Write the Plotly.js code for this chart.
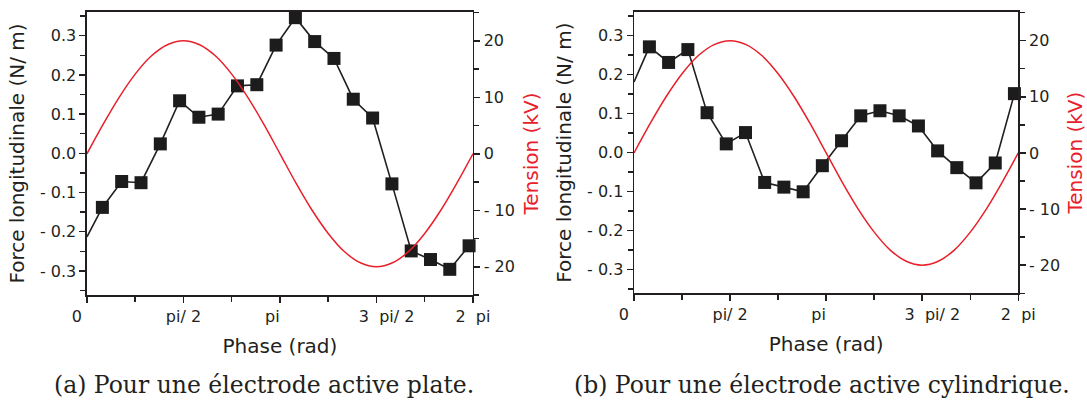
<!DOCTYPE html>
<html>
<head>
<meta charset="utf-8">
<script src="https://cdn.plot.ly/plotly-3.0.1.min.js"></script>
<style>html,body{margin:0;padding:0;background:#fff;}#chart{width:1087px;height:405px;}</style>
</head>
<body>
<div id="chart"></div>
<script>
// ---- Data ----
// Phase (rad) of the force measurements (first entry = left edge of the curve)
const phaseForce = [0, 0.251, 0.565, 0.880, 1.194, 1.508, 1.822, 2.136, 2.450, 2.765, 3.079,
                    3.393, 3.707, 4.021, 4.335, 4.650, 4.964, 5.278, 5.592, 5.906, 6.220];
// (a) flat active electrode, longitudinal force (N/m)
const forcePlate = [-0.213, -0.138, -0.072, -0.075, 0.024, 0.134, 0.092, 0.100, 0.172, 0.175, 0.276,
                    0.346, 0.285, 0.242, 0.138, 0.090, -0.078, -0.249, -0.271, -0.296, -0.236];
// (b) cylindrical active electrode, longitudinal force (N/m)
const forceCyl = [0.181, 0.271, 0.231, 0.264, 0.102, 0.022, 0.051, -0.077, -0.089, -0.101, -0.034,
                  0.030, 0.094, 0.107, 0.094, 0.068, 0.004, -0.039, -0.078, -0.027, 0.151];
// Applied voltage (kV) vs phase
const phaseVolt = [0, 0.262, 0.524, 0.785, 1.047, 1.309, 1.571, 1.833, 2.094, 2.356, 2.618, 2.880, 3.142,
                   3.403, 3.665, 3.927, 4.189, 4.451, 4.712, 4.974, 5.236, 5.498, 5.760, 6.021, 6.283];
const tensionKV = [0, 5.2, 10, 14.1, 17.3, 19.3, 20, 19.3, 17.3, 14.1, 10, 5.2, 0,
                   -5.2, -10, -14.1, -17.3, -19.3, -20, -19.3, -17.3, -14.1, -10, -5.2, 0];
// Tick labels
const xTickVals = [0, Math.PI / 2, Math.PI, 3 * Math.PI / 2, 2 * Math.PI];
const xTickText = ["0\u00a0\u00a0\u00a0\u00a0", "pi/ 2", "pi\u00a0\u00a0\u00a0", "\u00a0\u00a0\u00a0\u00a03 \u00a0pi/ 2", "2 \u00a0pi"];
const fTickVals = [-0.3, -0.2, -0.1, 0, 0.1, 0.2, 0.3];
const fTickText = ["- 0.3", "- 0.2", "- 0.1", "0.0", "0.1", "0.2", "0.3"];
const vTickVals = [-20, -10, 0, 10, 20];
const vTickText = ["- 20", "- 10", "0", "10", "20"];
const captions = ["(a) Pour une électrode active plate.", "(b) Pour une électrode active cylindrique."];

// ---- Styles ----
const INK = '#231f20';
const RED = '#e8202a';
const NB = '\u00a0';
const tickFont = {family: 'DejaVu Sans', size: 16, color: INK};
const titleFont = {family: 'DejaVu Sans', size: 20, color: INK};
const markerSizes = phaseForce.map((_, i) => i === 0 ? 0 : 13);

function forceTrace(y, xa, ya) {
  return {x: phaseForce, y: y, xaxis: xa, yaxis: ya, type: 'scatter', mode: 'lines+markers',
    line: {color: INK, width: 1.6},
    marker: {symbol: 'square', size: markerSizes, color: '#1c1c1c', opacity: 1, line: {width: 0}},
    showlegend: false, cliponaxis: false};
}
function voltTrace(xa, ya) {
  return {x: phaseVolt, y: tensionKV, xaxis: xa, yaxis: ya, type: 'scatter', mode: 'lines',
    line: {color: RED, width: 1.5, shape: 'spline', smoothing: 1}, showlegend: false};
}
const data = [
  forceTrace(forcePlate, 'x', 'y'), voltTrace('x', 'y2'),
  forceTrace(forceCyl, 'x2', 'y3'), voltTrace('x2', 'y4')
];

function xAxis(domain, anchor) {
  return {domain: domain, anchor: anchor, range: [0, 2 * Math.PI], tickmode: 'array',
    tickvals: xTickVals, ticktext: xTickText, ticks: 'outside', ticklen: 6, tickwidth: 1.5, tickcolor: INK,
    minor: {tickvals: [Math.PI / 4, 3 * Math.PI / 4, 5 * Math.PI / 4, 7 * Math.PI / 4], ticks: 'outside', ticklen: 5, tickwidth: 1.5, tickcolor: INK},
    showline: true, linecolor: INK, linewidth: 1.5, mirror: true, showgrid: false, zeroline: false,
    tickfont: tickFont, title: {text: 'Phase (rad)', font: titleFont, standoff: 14}};
}
function fAxis(domain, anchor) {
  return {domain: domain, anchor: anchor, range: [-0.3615, 0.3605], tickmode: 'array',
    tickvals: fTickVals, ticktext: fTickText, ticks: 'outside', ticklen: 6, tickwidth: 1.5, tickcolor: INK,
    minor: {dtick: 0.05, tick0: 0, ticks: 'outside', ticklen: 5, tickwidth: 1.5, tickcolor: INK},
    showline: true, linecolor: INK, linewidth: 1.5, showgrid: false, zeroline: false,
    tickfont: tickFont, title: {text: 'Force longitudinale (N/ m)', font: titleFont, standoff: 10}};
}
function vAxis(overlay, anchor) {
  return {overlaying: overlay, anchor: anchor, side: 'right', range: [-25, 25.1], tickmode: 'array',
    tickvals: vTickVals, ticktext: vTickText, ticks: 'outside', ticklen: 6, tickwidth: 1.5, tickcolor: INK,
    minor: {dtick: 5, tick0: 0, ticks: 'outside', ticklen: 5, tickwidth: 1.5, tickcolor: INK},
    showline: true, linecolor: INK, linewidth: 1.5, showgrid: false, zeroline: false,
    tickfont: tickFont,
    title: {text: NB.repeat(8) + 'Tension (kV)', font: {family: 'DejaVu Sans', size: 20, color: RED}, standoff: 10}};
}

const capFont = {family: 'DejaVu Serif', size: 23.5, color: INK};
const layout = {
  width: 1087, height: 405,
  margin: {l: 0, r: 0, t: 0, b: 0},
  paper_bgcolor: '#fff', plot_bgcolor: '#fff',
  xaxis: xAxis([0.0800, 0.4351], 'y'),
  yaxis: fAxis([0.2716, 0.9704], 'x'),
  yaxis2: vAxis('y', 'x'),
  xaxis2: xAxis([0.5833, 0.9368], 'y3'),
  yaxis3: fAxis([0.2758, 0.9704], 'x2'),
  yaxis4: vAxis('y3', 'x2'),
  annotations: [
    {text: captions[0], xref: 'paper', yref: 'paper', x: 264 / 1087, y: 1 - 385 / 405, xanchor: 'center', yanchor: 'middle',
     showarrow: false, font: capFont},
    {text: captions[1], xref: 'paper', yref: 'paper', x: 822 / 1087, y: 1 - 385 / 405, xanchor: 'center', yanchor: 'middle',
     showarrow: false, font: capFont}
  ]
};

Plotly.newPlot('chart', data, layout, {staticPlot: true, displayModeBar: false});
</script>
</body>
</html>
